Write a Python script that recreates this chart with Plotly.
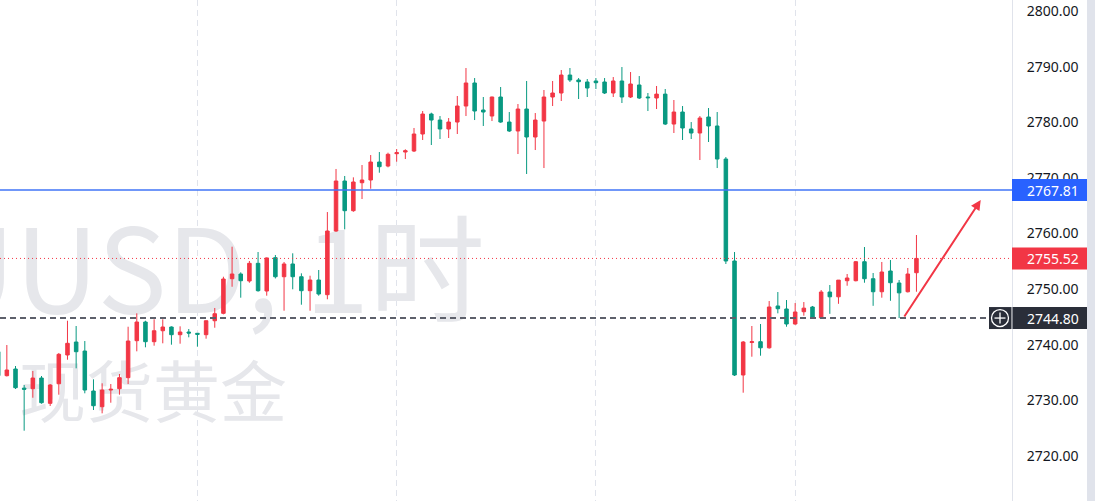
import plotly.graph_objects as go

# ---------------- data ----------------
opens = [2738.75, 2734.44, 2735.64, 2732.20, 2732.10, 2734.02, 2729.47, 2732.99, 2738.16, 2740.49,
         2738.87, 2731.68, 2728.86, 2731.86, 2732.10, 2734.08, 2740.73, 2744.09, 2740.55, 2742.52,
         2743.19, 2741.81, 2742.29, 2742.06, 2741.81, 2744.32, 2745.65, 2751.87, 2752.72, 2751.46,
         2754.64, 2749.66, 2755.65, 2752.23, 2754.52, 2752.23, 2749.72, 2751.64, 2749.00, 2760.45,
         2769.44, 2764.10, 2769.13, 2769.62, 2772.85, 2772.13, 2774.35, 2774.65, 2774.83, 2777.89,
         2781.48, 2780.40, 2778.79, 2780.04, 2782.92, 2787.06, 2782.20, 2781.12, 2784.54, 2780.04,
         2778.43, 2782.38, 2777.35, 2780.22, 2784.54, 2785.26, 2788.49, 2787.60, 2787.24, 2787.42,
         2787.24, 2785.26, 2787.42, 2784.54, 2786.70, 2784.54, 2784.36, 2785.06, 2779.68, 2781.84,
         2778.79, 2778.07, 2780.94, 2779.33, 2773.39, 2755.06, 2734.56, 2740.40, 2740.55, 2739.45,
         2746.97, 2746.43, 2743.73, 2745.94, 2746.79, 2744.84, 2749.48, 2748.62, 2751.51, 2751.51,
         2754.93, 2751.87, 2749.53, 2753.26, 2751.10, 2749.53, 2752.95]
highs = [2739.60, 2739.95, 2736.18, 2732.76, 2735.28, 2734.38, 2732.94, 2738.52, 2744.32, 2743.37,
         2740.67, 2733.79, 2733.07, 2732.94, 2734.74, 2743.24, 2745.65, 2744.32, 2744.57, 2744.57,
         2743.30, 2743.31, 2742.83, 2742.10, 2744.35, 2746.61, 2752.23, 2757.63, 2753.02, 2755.06,
         2756.67, 2755.70, 2756.13, 2754.88, 2756.44, 2752.84, 2752.41, 2753.44, 2763.86, 2771.60,
         2770.34, 2770.10, 2772.31, 2774.11, 2774.65, 2774.53, 2775.19, 2775.14, 2778.97, 2782.02,
         2781.72, 2781.12, 2780.76, 2784.72, 2789.75, 2787.95, 2784.54, 2784.60, 2786.34, 2781.84,
         2783.28, 2787.42, 2781.66, 2785.80, 2787.42, 2789.39, 2789.75, 2787.95, 2787.77, 2787.95,
         2787.95, 2788.13, 2789.93, 2789.03, 2788.31, 2785.26, 2786.52, 2785.98, 2784.00, 2782.92,
         2780.04, 2781.12, 2782.56, 2781.84, 2773.75, 2756.67, 2740.67, 2743.37, 2743.73, 2747.86,
         2749.48, 2748.04, 2747.50, 2747.68, 2746.97, 2749.84, 2750.74, 2751.64, 2752.72, 2755.06,
         2757.57, 2752.90, 2754.88, 2755.23, 2751.64, 2753.80, 2759.73]
lows = [2733.66, 2734.30, 2732.04, 2724.55, 2730.48, 2729.40, 2728.99, 2731.02, 2737.31, 2735.76,
        2731.27, 2728.27, 2727.67, 2729.58, 2731.02, 2732.94, 2738.82, 2739.54, 2739.83, 2740.26,
        2740.01, 2740.19, 2741.34, 2739.65, 2741.09, 2743.06, 2745.47, 2750.43, 2748.46, 2751.15,
        2749.54, 2748.82, 2751.92, 2746.12, 2749.97, 2747.20, 2746.12, 2748.82, 2748.17, 2760.30,
        2760.75, 2763.90, 2766.20, 2768.05, 2770.93, 2771.90, 2772.91, 2773.39, 2774.65, 2776.81,
        2775.91, 2776.99, 2777.17, 2777.89, 2781.12, 2780.40, 2779.33, 2780.22, 2779.90, 2778.25,
        2774.29, 2770.70, 2775.01, 2771.77, 2782.92, 2783.82, 2787.24, 2784.18, 2784.54, 2785.98,
        2785.08, 2784.54, 2783.46, 2784.36, 2784.18, 2782.02, 2782.38, 2779.50, 2778.07, 2776.81,
        2776.99, 2773.21, 2776.45, 2771.77, 2754.52, 2734.38, 2731.38, 2737.85, 2738.03, 2739.30,
        2745.65, 2743.24, 2743.60, 2745.22, 2744.75, 2744.75, 2745.56, 2747.36, 2750.61, 2751.40,
        2751.15, 2747.00, 2748.46, 2747.90, 2744.80, 2749.40, 2749.53]
closes = [2734.44, 2735.46, 2732.28, 2732.00, 2734.02, 2729.58, 2732.76, 2738.28, 2740.26, 2738.75,
          2731.86, 2729.04, 2731.86, 2731.99, 2734.08, 2740.67, 2744.09, 2740.55, 2742.52, 2743.19,
          2741.81, 2742.29, 2742.10, 2741.88, 2744.32, 2745.58, 2751.82, 2752.72, 2751.51, 2754.64,
          2749.72, 2755.60, 2752.23, 2754.52, 2752.23, 2749.72, 2751.64, 2749.12, 2760.45, 2769.44,
          2764.10, 2769.26, 2769.62, 2772.85, 2772.01, 2774.24, 2774.53, 2774.88, 2777.89, 2781.48,
          2780.40, 2778.79, 2780.04, 2782.92, 2787.06, 2782.02, 2781.84, 2784.54, 2780.04, 2778.43,
          2782.38, 2777.35, 2780.40, 2784.54, 2785.26, 2788.49, 2787.60, 2787.29, 2786.16, 2787.11,
          2785.26, 2787.42, 2784.54, 2786.88, 2784.36, 2784.41, 2785.06, 2779.68, 2781.84, 2778.97,
          2778.07, 2780.76, 2779.33, 2773.39, 2755.06, 2734.56, 2740.49, 2740.55, 2739.45, 2746.79,
          2746.48, 2743.73, 2745.89, 2746.58, 2744.84, 2749.48, 2748.62, 2751.62, 2752.00, 2754.93,
          2751.87, 2749.53, 2753.08, 2751.15, 2749.33, 2752.72, 2755.52]
bar_index = list(range(len(opens)))

price_ticks = [2720, 2730, 2740, 2750, 2760, 2770, 2780, 2790, 2800]
price_tick_labels = [f"{v:.2f}" for v in price_ticks]
day_breaks = [23, 46, 69, 92]

blue_level = 2767.81
last_price = 2755.52
dashed_level = 2744.80
arrow_tail = [104.49, 2744.80]
arrow_head = [113.42, 2766.02]

watermark_title = "XAUUSD, 1时"
watermark_sub = "现货黄金"

# ---------------- styling ----------------
RED = "#F23645"
GREEN = "#089981"
BLUE = "#2962FF"
DARK = "#2A2E39"
Y_RANGE = [2711.91, 2801.98]
X_RANGE = [0.21, 117.03]
PLOT_W = 1012.0
PX_PRICE = 1 / 5.5625  # price units per pixel
WM_COLOR = "#E6E7EB"


def px(xp):
    return xp / PLOT_W


fig = go.Figure()

# watermark (base subplot, drawn underneath the candles)
fig.add_trace(go.Scatter(
    x=[56.2], y=[2750.9], mode="text", text=[watermark_title],
    textposition="middle left",
    textfont=dict(size=116, color=WM_COLOR, family="Noto Sans CJK SC"),
    hoverinfo="skip", showlegend=False, xaxis="x", yaxis="y", cliponaxis=True))
fig.add_trace(go.Scatter(
    x=[2.4], y=[2730.1], mode="text", text=[watermark_sub],
    textposition="middle right",
    textfont=dict(size=67, color=WM_COLOR, family="Noto Sans CJK SC"),
    hoverinfo="skip", showlegend=False, xaxis="x", yaxis="y"))

fig.add_trace(go.Candlestick(
    x=bar_index, open=opens, high=highs, low=lows, close=closes,
    increasing=dict(line=dict(color=RED, width=1), fillcolor=RED),
    decreasing=dict(line=dict(color=GREEN, width=1), fillcolor=GREEN),
    whiskerwidth=0, hoverinfo="skip", showlegend=False,
    xaxis="x", yaxis="y2"))

shapes = []
# horizontal lines
shapes.append(dict(type="line", xref="paper", yref="y2", x0=0, x1=1,
                   y0=blue_level, y1=blue_level, line=dict(color="#4174F7", width=1.6), layer="above"))
shapes.append(dict(type="line", xref="paper", yref="y2", x0=0, x1=1,
                   y0=last_price, y1=last_price, line=dict(color=RED, width=1, dash="1px,3px"), layer="above"))
shapes.append(dict(type="line", xref="paper", yref="y2", x0=0, x1=px(989),
                   y0=dashed_level, y1=dashed_level, line=dict(color="#5D606B", width=2, dash="6px,4px"),
                   layer="above"))
# right-axis price boxes
half = 11 * PX_PRICE
for lvl, col in [(blue_level, BLUE), (last_price, RED)]:
    shapes.append(dict(type="rect", xref="paper", yref="y2", x0=1.0, x1=px(1088),
                       y0=lvl - half, y1=lvl + half, fillcolor=col, line=dict(width=0), layer="above"))
shapes.append(dict(type="rect", xref="paper", yref="y2", x0=px(1012.5), x1=px(1088),
                   y0=dashed_level - half, y1=dashed_level + half, fillcolor=DARK,
                   line=dict(width=0), layer="above"))
shapes.append(dict(type="rect", xref="paper", yref="y2", x0=px(989), x1=px(1011.5),
                   y0=dashed_level - half, y1=dashed_level + half, fillcolor=DARK,
                   line=dict(width=0), layer="above"))
# crosshair icon
r = 8.5
shapes.append(dict(type="circle", xref="paper", yref="y2", x0=px(1000 - r), x1=px(1000 + r),
                   y0=dashed_level - r * PX_PRICE, y1=dashed_level + r * PX_PRICE,
                   line=dict(color="#FFFFFF", width=1.3), layer="above"))
shapes.append(dict(type="line", xref="paper", yref="y2", x0=px(994.5), x1=px(1005.5),
                   y0=dashed_level, y1=dashed_level, line=dict(color="#FFFFFF", width=1.3), layer="above"))
shapes.append(dict(type="line", xref="paper", yref="y2", x0=px(1000), x1=px(1000),
                   y0=dashed_level - 5.5 * PX_PRICE, y1=dashed_level + 5.5 * PX_PRICE,
                   line=dict(color="#FFFFFF", width=1.3), layer="above"))
# right scrollbar strip
shapes.append(dict(type="rect", xref="paper", yref="paper", x0=px(1087), x1=px(1096),
                   y0=0, y1=1, fillcolor="#E0E3EB", line=dict(width=0), layer="above"))

annotations = []
for lvl in [blue_level, last_price, dashed_level]:
    annotations.append(dict(xref="paper", yref="y2", x=px(1025), y=lvl, xanchor="left",
                            yanchor="middle", text=f"{lvl:.2f}", showarrow=False,
                            font=dict(family="Noto Sans", size=14, color="#FFFFFF")))
annotations.append(dict(xref="x", yref="y2", x=arrow_head[0], y=arrow_head[1],
                        axref="x", ayref="y2", ax=arrow_tail[0], ay=arrow_tail[1],
                        text="", showarrow=True, arrowhead=2, arrowsize=1, arrowwidth=2,
                        arrowcolor=RED, standoff=0, startstandoff=0))

fig.update_layout(
    width=1095, height=501,
    margin=dict(l=0, r=83, t=0, b=0, pad=0),
    paper_bgcolor="#FFFFFF", plot_bgcolor="#FFFFFF",
    showlegend=False, boxgap=0.42,
    xaxis=dict(range=X_RANGE, showticklabels=False, tickvals=day_breaks, ticks="",
               showgrid=True, gridcolor="#E0E3EB", gridwidth=1, griddash="6px,4px",
               zeroline=False, showline=False, rangeslider=dict(visible=False),
               fixedrange=True),
    yaxis=dict(range=Y_RANGE, visible=False, showgrid=False, zeroline=False, fixedrange=True),
    yaxis2=dict(range=Y_RANGE, overlaying="y", side="right", tickvals=price_ticks,
                ticktext=price_tick_labels, showgrid=False, zeroline=False, showline=True,
                linecolor="#E0E3EB", linewidth=1, ticks="", ticklabelstandoff=11,
                tickfont=dict(family="Noto Sans", size=14, color="#131722"),
                automargin=False, fixedrange=True),
    shapes=shapes, annotations=annotations,
)

fig.write_html(
    "out.html",
    config={"displayModeBar": False},
    post_script="document.body.style.margin='0px';document.body.style.overflow='hidden';",
)
